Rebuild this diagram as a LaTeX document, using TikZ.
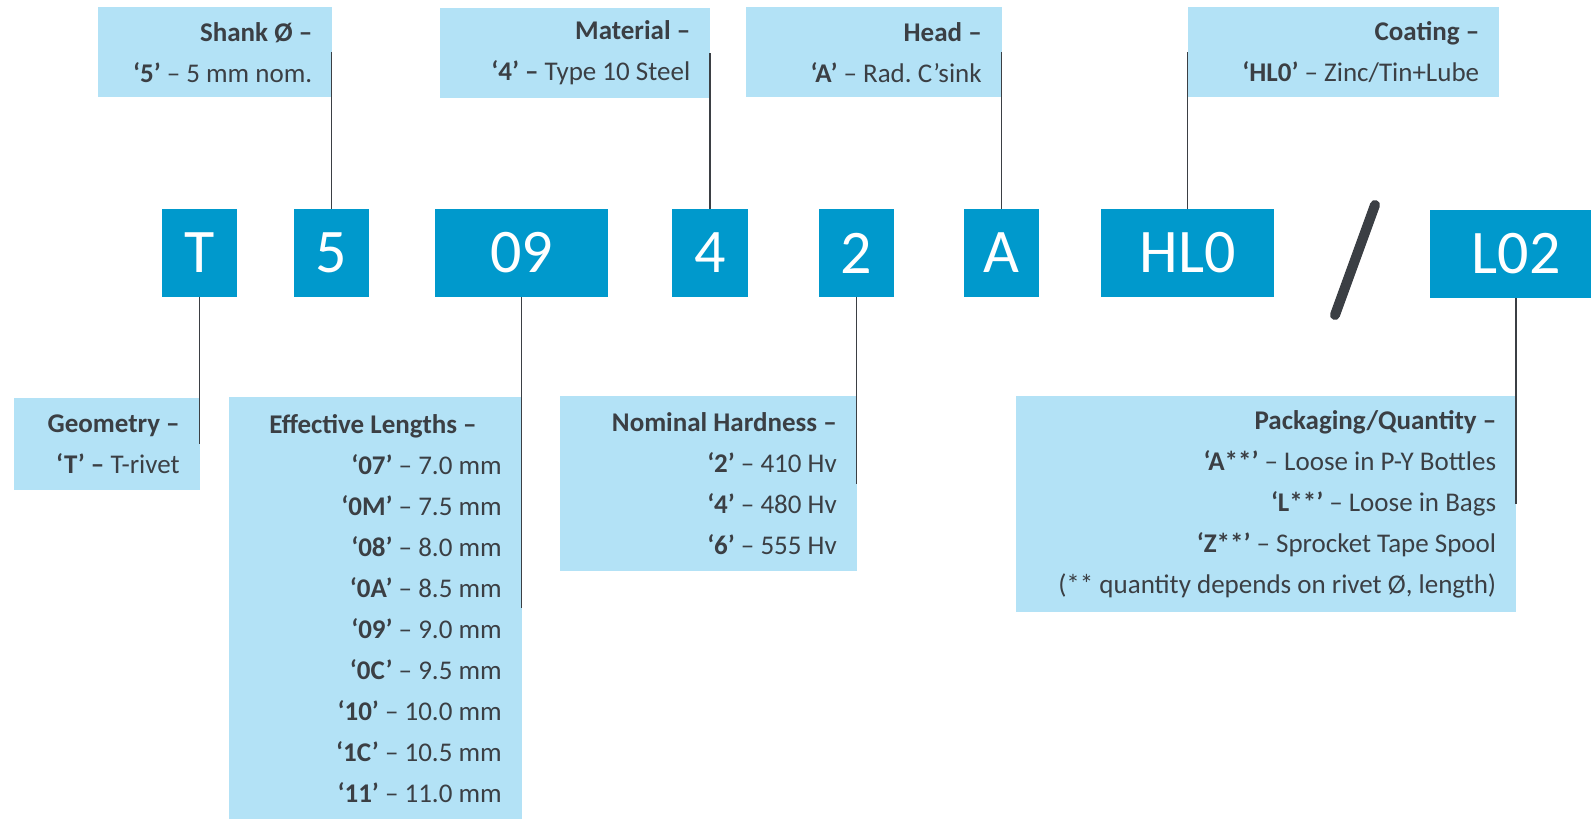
\documentclass[tikz,border=0pt]{standalone}
\usepackage{fontspec}
\setmainfont{Carlito}
\definecolor{keyblue}{RGB}{0,153,204}
\definecolor{paleblue}{RGB}{179,226,246}
\definecolor{inkgray}{RGB}{59,63,68}

\begin{document}
\begin{tikzpicture}[x=1pt,y=-1pt,
		key/.style={fill=keyblue,text=white,font=\fontsize{62}{62}\selectfont,minimum height=88pt,inner sep=0pt},
		info/.style={fill=paleblue,text=inkgray,font=\fontsize{27}{41}\selectfont\frenchspacing,align=flush right,anchor=north west,inner xsep=20pt,inner ysep=0pt},
		lead/.style={draw=inkgray,line width=1.8pt}]
		\useasboundingbox (0,0) rectangle (1591,819);
		\clip (0,0) rectangle (1591,819);
		% code keys
		\node[key,minimum width=75pt]  (kT)   at (199.5,253) {T};
		\node[key,minimum width=75pt]  (k5)   at (331.5,253) {5};
		\node[key,minimum width=173pt] (k09)  at (521.5,253) {09};
		\node[key,minimum width=76pt]  (k4)   at (710,253)   {4};
		\node[key,minimum width=75pt]  (k2)   at (856.5,253) {2};
		\node[key,minimum width=75pt]  (kA)   at (1001.5,253) {A};
		\node[key,minimum width=173pt] (kHL0) at (1187.5,253) {HL0};
		\node[key,minimum width=172pt] (kL02) at (1516,254)  {L02};
		\draw[draw=inkgray,line width=10pt,line cap=round] (1375,205) -- (1335,315);
		% upper labels
		\node[info,text width=194pt,minimum height=90pt] (lShank) at (98,7)
			{\textbf{Shank Ø –}\\\textbf{‘5’} – 5 mm nom.};
		\node[info,text width=230pt,minimum height=90pt] (lMat) at (440,8)
			{\textbf{Material –}\\\textbf{‘4’ –} Type 10 Steel};
		\node[info,text width=215.5pt,minimum height=90pt] (lHead) at (746,7)
			{\textbf{Head –}\\\textbf{‘A’} – Rad. C’sink};
		\node[info,text width=271.5pt,minimum height=90pt] (lCoat) at (1187.5,7)
			{\textbf{Coating –}\\\textbf{‘HL0’} – Zinc/Tin+Lube};
		% lower labels
		\node[info,text width=145.5pt,minimum height=92pt] (lGeom) at (14,398)
			{\textbf{Geometry –}\\\textbf{‘T’ –} T-rivet};
		\node[info,text width=252.5pt,minimum height=422pt] (lLen) at (229,397)
			{\textbf{Effective Lengths –}\kern25pt\\
			\textbf{‘07’} – 7.0 mm\\\textbf{‘0M’} – 7.5 mm\\\textbf{‘08’} – 8.0 mm\\
			\textbf{‘0A’} – 8.5 mm\\\textbf{‘09’} – 9.0 mm\\\textbf{‘0C’} – 9.5 mm\\
			\textbf{‘10’} – 10.0 mm\\\textbf{‘1C’} – 10.5 mm\\\textbf{‘11’} – 11.0 mm};
		\node[info,text width=256.5pt,minimum height=175pt] (lHard) at (560,396)
			{\textbf{Nominal Hardness –}\\\textbf{‘2’} – 410 Hv\\\textbf{‘4’} – 480 Hv\\\textbf{‘6’} – 555 Hv};
		\node[info,text width=460pt,minimum height=216pt] (lPack) at (1016,396)
			{\textbf{Packaging/Quantity –}\\
			\textbf{‘A**’} – Loose in P-Y Bottles\\
			\textbf{‘L**’} – Loose in Bags\\
			\textbf{‘Z**’} – Sprocket Tape Spool\\
			(** quantity depends on rivet Ø, length)};
		% leads
		\draw[lead] (k5.north)   -- (k5.north |- lShank.east);
		\draw[lead] (k4.north)   -- (k4.north |- lMat.east);
		\draw[lead] (kA.north)   -- (kA.north |- lHead.east);
		\draw[lead] (kHL0.north) -- (kHL0.north |- lCoat.west);
		\draw[lead] (kT.south)   -- (kT.south |- lGeom.east);
		\draw[lead] (k09.south)  -- (k09.south |- lLen.east);
		\draw[lead] (k2.south)   -- (k2.south |- lHard.east);
		\draw[lead] (kL02.south) -- (kL02.south |- lPack.east);
\end{tikzpicture}
\end{document}
